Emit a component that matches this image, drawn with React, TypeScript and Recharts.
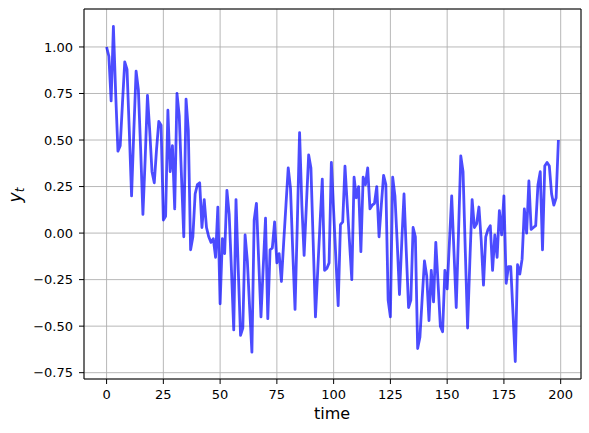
import React from 'react';
import { LineChart, Line, XAxis, YAxis, CartesianGrid, ReferenceArea, Label } from 'recharts';

const yValues: number[] = [
  1.0, 0.95, 0.71, 1.11, 0.75, 0.44, 0.47, 0.7, 0.92, 0.88,
  0.55, 0.2, 0.55, 0.87, 0.77, 0.45, 0.1, 0.4, 0.74, 0.55,
  0.33, 0.27, 0.45, 0.6, 0.58, 0.07, 0.09, 0.66, 0.33, 0.47,
  0.13, 0.75, 0.63, 0.3, -0.02, 0.72, 0.55, -0.09, -0.02, 0.21,
  0.26, 0.27, 0.03, 0.18, 0.03, -0.02, -0.05, -0.03, -0.13, 0.14,
  -0.38, -0.03, -0.11, 0.23, 0.1, -0.2, -0.52, 0.18, -0.2, -0.55,
  -0.51, -0.01, -0.15, -0.4, -0.64, 0.07, 0.16, -0.15, -0.45, -0.18,
  0.08, -0.46, -0.09, -0.08, 0.06, -0.16, -0.11, -0.26, -0.05, 0.15,
  0.35, 0.24, -0.1, -0.41, 0.05, 0.54, 0.15, -0.12, 0.15, 0.42,
  0.35, -0.05, -0.45, -0.2, 0.05, 0.29, -0.2, -0.19, -0.16, 0.38,
  0.12, -0.14, -0.39, 0.045, 0.06, 0.36, 0.15, -0.05, -0.25, 0.3,
  0.19, 0.25, -0.1, 0.3, 0.26, 0.35, 0.13, 0.15, 0.16, 0.25,
  -0.02, 0.15, 0.31, 0.26, -0.36, -0.45, 0.3, 0.2, -0.05, -0.33,
  -0.05, 0.21, -0.1, -0.4, -0.36, 0.03, -0.02, -0.62, -0.56, -0.35,
  -0.15, -0.23, -0.47, -0.2, -0.37, -0.05, -0.27, -0.5, -0.53, -0.2,
  -0.3, -0.05, 0.2, -0.1, -0.4, 0.0, 0.415, 0.33, -0.1, -0.51,
  -0.15, 0.18, 0.03, 0.05, 0.14, -0.04, -0.28, -0.02, 0.02, 0.04,
  -0.2, -0.01, -0.13, 0.12, -0.01, 0.2, -0.27, -0.18, -0.18, -0.43,
  -0.69, -0.17, -0.22, -0.14, 0.13, 0.0, 0.28, 0.02, 0.03, 0.04,
  0.26, 0.33, -0.09, 0.36, 0.38, 0.36, 0.21, 0.15, 0.19, 0.5,
];

const xTicks = [0, 25, 50, 75, 100, 125, 150, 175, 200];
const yTicks = [-0.75, -0.5, -0.25, 0, 0.25, 0.5, 0.75, 1.0];
const xDomain: [number, number] = [-9.95, 208.95];
const yDomain: [number, number] = [-0.784, 1.204];

const data = yValues.map((y, i) => ({ time: i, y }));

const fmtY = (v: number) => (v < 0 ? '\u2212' : '') + Math.abs(v).toFixed(2);
const FONT = 'DejaVu Sans';
const tickStyle = { fill: '#000', fontSize: 13, fontFamily: FONT };

export default function App() {
  return (
    <div style={{ position: 'absolute', left: 0, top: 0, width: 589, height: 433, background: '#fff' }}>
      <LineChart width={589} height={433} data={data} margin={{ top: 9, right: 8, bottom: 24, left: 0 }}>
        <CartesianGrid stroke="#b0b0b0" strokeWidth={0.9} />
        <XAxis
          dataKey="time"
          type="number"
          domain={xDomain}
          ticks={xTicks}
          allowDataOverflow
          interval={0}
          height={30}
          tickSize={5}
          tickMargin={6}
          tick={tickStyle}
          tickLine={{ stroke: '#000' }}
          axisLine={false}
        >
          <Label
            content={() => (
              <text x={332} y={419} textAnchor="middle" fontSize={16} fontFamily={FONT} fill="#000">
                time
              </text>
            )}
          />
        </XAxis>
        <YAxis
          type="number"
          domain={yDomain}
          ticks={yTicks}
          allowDataOverflow
          interval={0}
          width={84}
          tickSize={5}
          tickMargin={6}
          tick={tickStyle}
          tickFormatter={fmtY}
          tickLine={{ stroke: '#000' }}
          axisLine={false}
        >
          <Label
            content={() => (
              <text transform="translate(21,195) rotate(-90)" textAnchor="middle" fontSize={17} fontFamily={FONT} fill="#000">
                <tspan fontStyle="italic">y</tspan>
                <tspan fontStyle="italic" fontSize={12} dy={3}>t</tspan>
              </text>
            )}
          />
        </YAxis>
        <Line
          type="linear"
          dataKey="y"
          stroke="#0000ff"
          strokeOpacity={0.7}
          strokeWidth={2.8}
          strokeLinejoin="round"
          dot={false}
          activeDot={false}
          isAnimationActive={false}
        />
        <ReferenceArea
          x1={xDomain[0]}
          x2={xDomain[1]}
          y1={yDomain[0]}
          y2={yDomain[1]}
          fill="none"
          fillOpacity={0}
          stroke="#000"
          strokeWidth={1}
          ifOverflow="visible"
        />
      </LineChart>
    </div>
  );
}
